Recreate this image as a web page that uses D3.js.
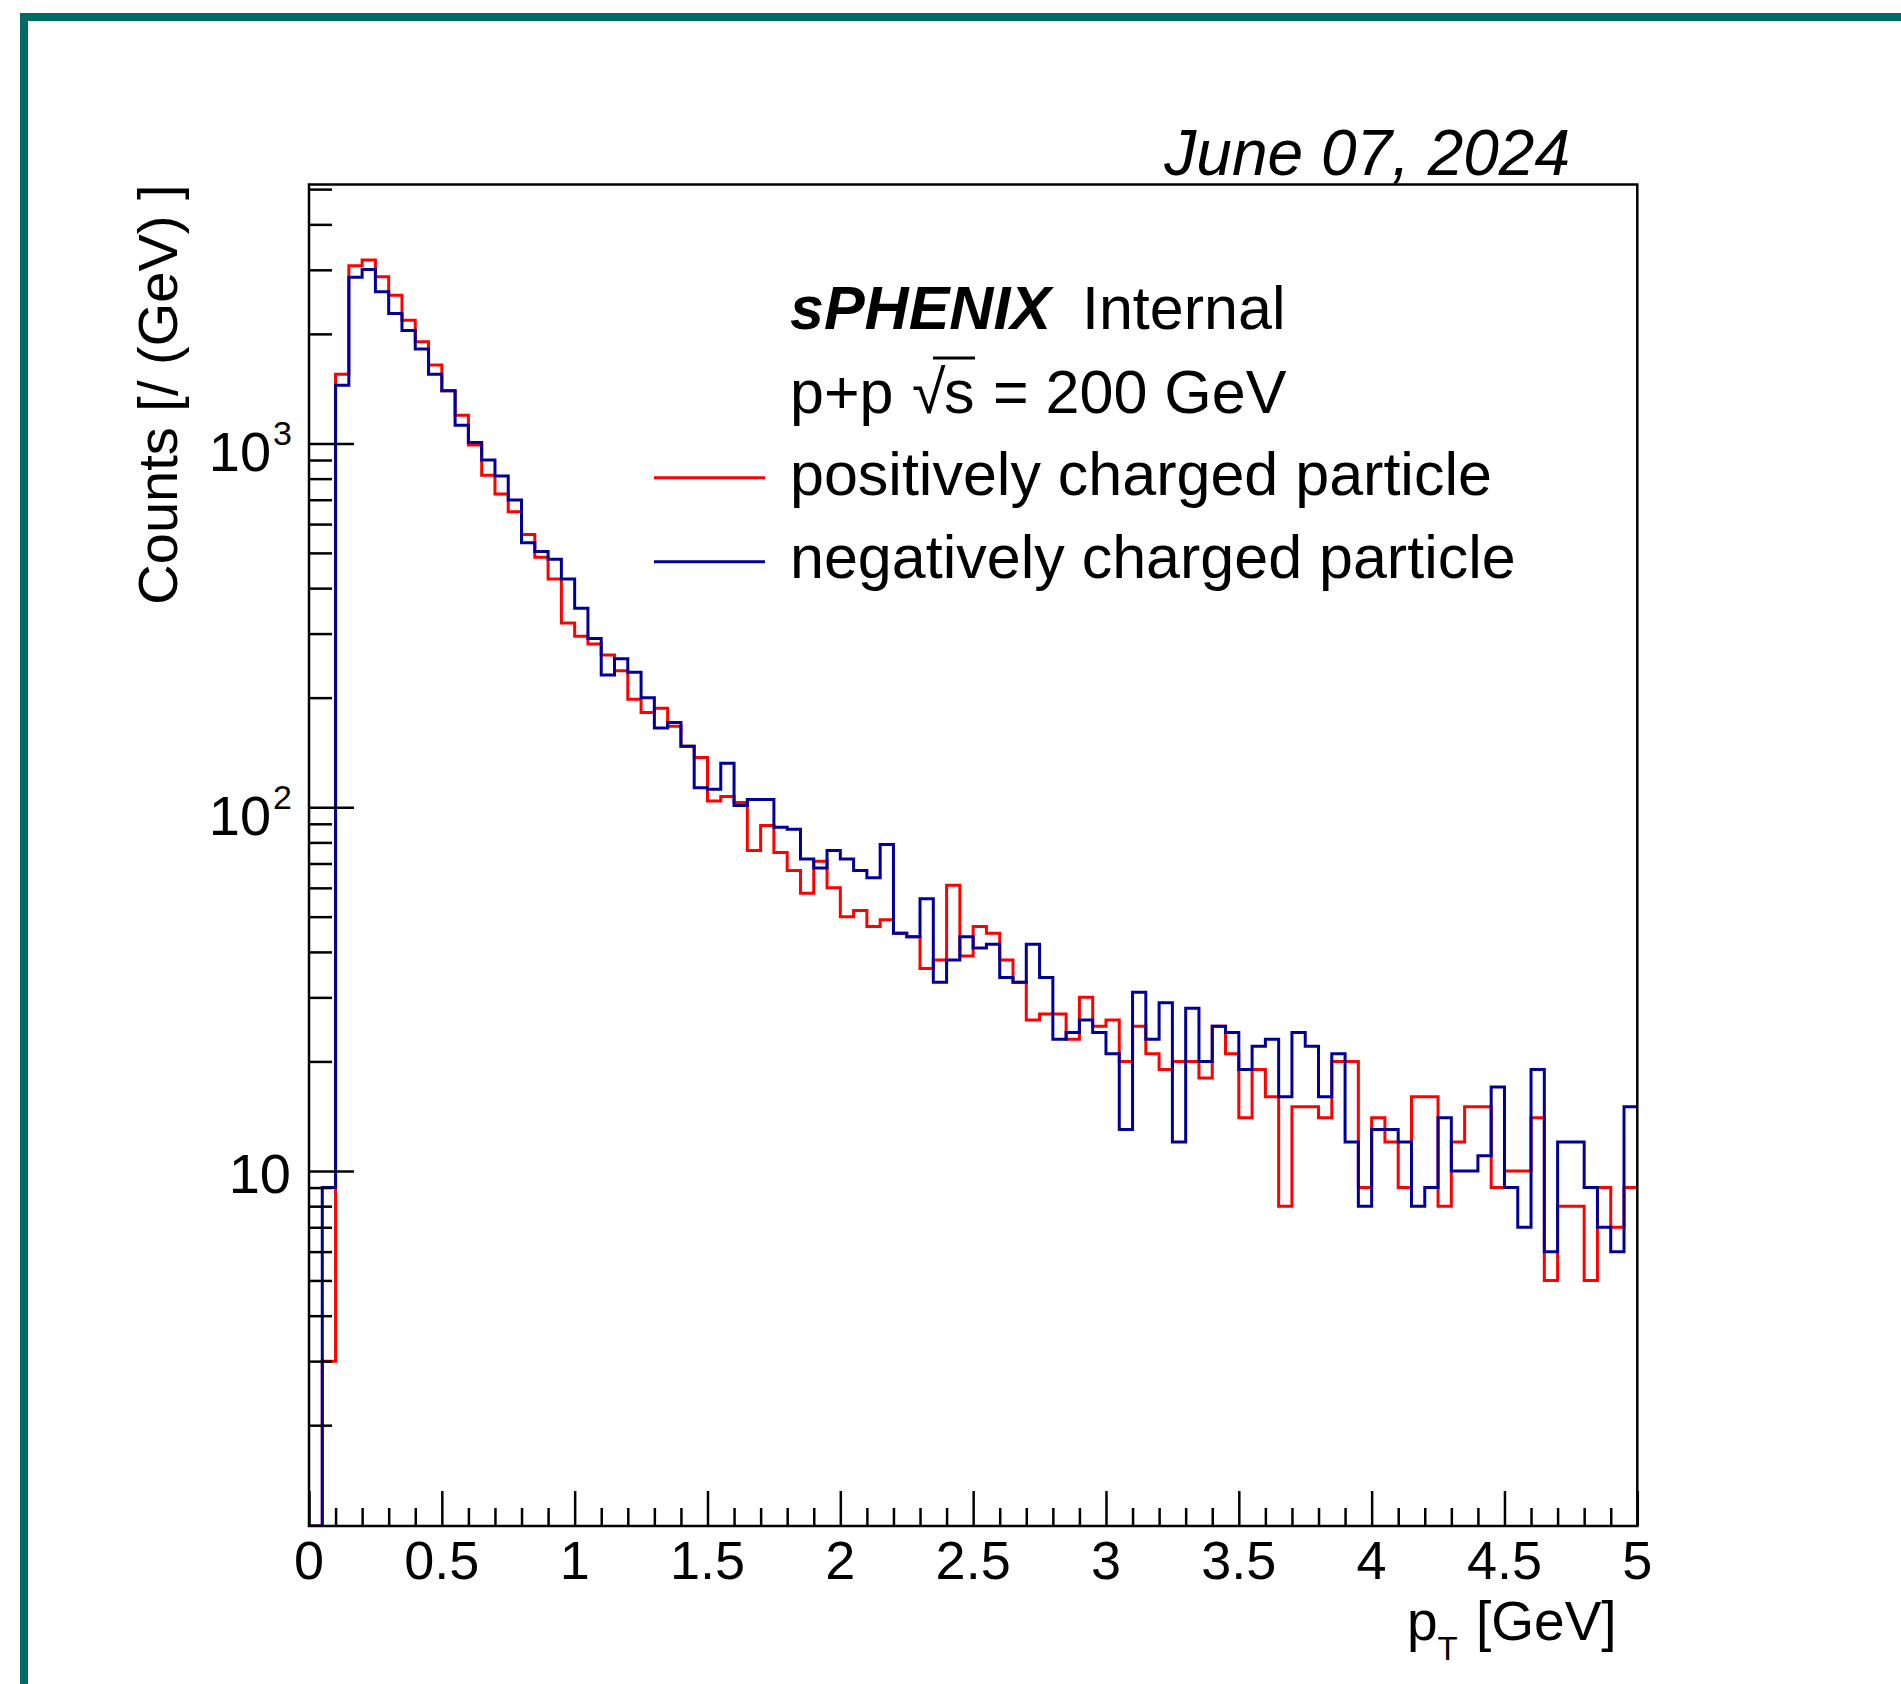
<!DOCTYPE html>
<html>
<head>
<meta charset="utf-8">
<script src="https://cdn.jsdelivr.net/npm/d3@7"></script>
<style>
  html, body { margin: 0; padding: 0; background: #fff; }
  svg { display: block; }
  text { font-family: "Liberation Sans", Arial, Helvetica, sans-serif; fill: #000; }
</style>
</head>
<body>
<svg id="chart" width="1901" height="1684"></svg>
<script>
// Histogram binning: 100 bins of pT between 0 and 5 GeV
const nBins = 100;
const ptMin = 0;
const ptMax = 5;

// Bin contents, positively charged particles
const positiveCounts = [
  0, 3, 1549, 3080, 3192, 2871, 2553, 2179, 1904, 1642,
  1396, 1194, 989, 817, 726, 649, 562, 486, 424, 321,
  295, 281, 262, 237, 198, 182, 187, 167, 147, 137,
  104, 107, 103, 76, 89, 75, 67, 58, 71, 60,
  50, 52, 47, 49, 45, 44, 36, 38, 61, 39,
  47, 45, 38, 33, 26, 27, 27, 23, 30, 25,
  26, 20, 25, 21, 19, 20, 20, 18, 25, 21,
  14, 19, 16, 8, 15, 15, 14, 20, 20, 9,
  14, 12, 9, 16, 16, 8, 12, 15, 15, 9,
  10, 10, 14, 5, 8, 8, 5, 9, 7, 9
];

// Bin contents, negatively charged particles
const negativeCounts = [
  0, 9, 1444, 2861, 3008, 2612, 2276, 2042, 1817, 1548,
  1396, 1121, 1006, 900, 813, 699, 533, 504, 480, 424,
  352, 291, 231, 256, 235, 200, 165, 171, 147, 113,
  112, 132, 101, 105, 105, 88, 87, 72, 68, 76,
  72, 67, 64, 79, 45, 44, 56, 33, 38, 44,
  41, 42, 34, 33, 42, 34, 23, 24, 26, 24,
  21, 13, 31, 23, 29, 12, 28, 20, 25, 24,
  19, 22, 23, 16, 24, 22, 16, 21, 12, 8,
  13, 13, 12, 8, 9, 14, 10, 10, 11, 17,
  9, 7, 19, 6, 12, 12, 9, 7, 6, 15
];

// Axis ranges and tick labels
const yMin = 1.0566;
const yMax = 5148;
const xMajorTicks = [0, 0.5, 1, 1.5, 2, 2.5, 3, 3.5, 4, 4.5, 5];
const xTickLabels = ["0", "0.5", "1", "1.5", "2", "2.5", "3", "3.5", "4", "4.5", "5"];
const yMajorTicks = [10, 100, 1000];
const yTickLabels = [{base: "10", exp: ""}, {base: "10", exp: "2"}, {base: "10", exp: "3"}];

const seriesNames = ["positively charged particle", "negatively charged particle"];
const seriesColors = ["#ff0000", "#000099"];

// Frame geometry
const frame = {left: 309, right: 1637.3, top: 184.5, bottom: 1526};

const svg = d3.select("#chart");

// Page border
svg.append("rect")
  .attr("x", 24).attr("y", 17)
  .attr("width", 3000).attr("height", 3000)
  .attr("fill", "none")
  .attr("stroke", "#006b64")
  .attr("stroke-width", 8);

const x = d3.scaleLinear().domain([ptMin, ptMax]).range([frame.left, frame.right]);
const y = d3.scaleLog().domain([yMin, yMax]).range([frame.bottom, frame.top]);

// Clip histograms to the frame
svg.append("clipPath").attr("id", "plotclip")
  .append("rect")
  .attr("x", frame.left).attr("y", frame.top)
  .attr("width", frame.right - frame.left)
  .attr("height", frame.bottom - frame.top);

const binWidth = (ptMax - ptMin) / nBins;
const edges = d3.range(nBins + 1).map(i => ptMin + i * binWidth);

function histPoints(counts) {
  const pts = [{x: edges[0], v: yMin}];
  counts.forEach((c, i) => pts.push({x: edges[i], v: Math.max(c, yMin)}));
  pts.push({x: edges[nBins], v: Math.max(counts[nBins - 1], yMin)});
  return pts;
}

const stepLine = d3.line()
  .x(d => x(d.x))
  .y(d => y(d.v))
  .curve(d3.curveStepAfter);

const hists = svg.append("g").attr("clip-path", "url(#plotclip)");
[positiveCounts, negativeCounts].forEach((counts, k) => {
  hists.append("path")
    .attr("d", stepLine(histPoints(counts)))
    .attr("fill", "none")
    .attr("stroke", seriesColors[k])
    .attr("stroke-width", 3)
    .attr("stroke-linejoin", "miter");
});

// Axes (ticks drawn inward)
const xMinorTicks = d3.range(0, 51).map(i => i / 10).filter(t => !xMajorTicks.includes(t));
const yMinorTicks = [];
[1, 10, 100, 1000].forEach(dec => {
  for (let m = 2; m <= 9; m++) {
    const v = m * dec;
    if (v >= yMin && v <= yMax) yMinorTicks.push(v);
  }
});

function styleAxis(g) {
  g.select(".domain").remove();
  g.selectAll(".tick line").attr("stroke", "#000").attr("stroke-width", 2.5);
  g.selectAll(".tick text").remove();
}

svg.append("g").attr("transform", `translate(0,${frame.bottom})`)
  .call(d3.axisBottom(x).tickValues(xMajorTicks).tickSize(-35)).call(styleAxis);
svg.append("g").attr("transform", `translate(0,${frame.bottom})`)
  .call(d3.axisBottom(x).tickValues(xMinorTicks).tickSize(-18)).call(styleAxis);
svg.append("g").attr("transform", `translate(${frame.left},0)`)
  .call(d3.axisLeft(y).tickValues(yMajorTicks).tickSize(-45)).call(styleAxis);
svg.append("g").attr("transform", `translate(${frame.left},0)`)
  .call(d3.axisLeft(y).tickValues(yMinorTicks).tickSize(-23)).call(styleAxis);

// Frame
svg.append("rect")
  .attr("x", frame.left).attr("y", frame.top)
  .attr("width", frame.right - frame.left)
  .attr("height", frame.bottom - frame.top)
  .attr("fill", "none").attr("stroke", "#000").attr("stroke-width", 2.5);

// X tick labels
svg.append("g").selectAll("text").data(xMajorTicks).join("text")
  .attr("x", d => x(d)).attr("y", 1579)
  .attr("text-anchor", "middle")
  .attr("font-size", 54)
  .text((d, i) => xTickLabels[i]);

// Y tick labels
yMajorTicks.forEach((v, i) => {
  const lab = yTickLabels[i];
  const t = svg.append("text")
    .attr("text-anchor", "end")
    .attr("font-size", 56);
  if (lab.exp === "") {
    t.attr("x", 291).attr("y", y(v) + 22).text(lab.base);
  } else {
    t.attr("x", 292).attr("y", y(v) + 28);
    t.append("tspan").text(lab.base);
    t.append("tspan").attr("font-size", 34).attr("dx", 2).attr("dy", -26).text(lab.exp);
  }
});

// Axis titles
svg.append("text")
  .attr("transform", `translate(177,${frame.top}) rotate(-90)`)
  .attr("text-anchor", "end")
  .attr("font-size", 56)
  .text("Counts [/ (GeV) ]");

const xt = svg.append("text").attr("x", 1407).attr("y", 1640).attr("font-size", 55);
xt.append("tspan").text("p");
xt.append("tspan").attr("font-size", 33).attr("dy", 20).text("T");
xt.append("tspan").attr("x", 1476).attr("dy", -20).text("[GeV]");

// Date stamp
svg.append("text")
  .attr("x", 1570).attr("y", 175)
  .attr("text-anchor", "end")
  .attr("font-size", 64)
  .attr("font-style", "italic")
  .text("June 07, 2024");

// Labels
const lab1 = svg.append("text").attr("x", 790).attr("y", 329).attr("font-size", 61);
lab1.append("tspan").attr("font-weight", "bold").attr("font-style", "italic").text("sPHENIX");
lab1.append("tspan").attr("x", 1082).text("Internal");

const lab2 = svg.append("text").attr("x", 790).attr("y", 413).attr("font-size", 61);
lab2.append("tspan").text("p+p");
lab2.append("tspan").attr("x", 912).text("\u221A");
lab2.append("tspan").attr("x", 944).text("s");
lab2.append("tspan").attr("x", 993).text("= 200 GeV");
svg.append("line")
  .attr("x1", 933).attr("x2", 975)
  .attr("y1", 358).attr("y2", 358)
  .attr("stroke", "#000").attr("stroke-width", 3);

// Legend
const legendY = [477.7, 561.7];
const legendTextY = [495, 578];
seriesNames.forEach((name, k) => {
  svg.append("line")
    .attr("x1", 654).attr("x2", 765)
    .attr("y1", legendY[k]).attr("y2", legendY[k])
    .attr("stroke", seriesColors[k]).attr("stroke-width", 3);
  svg.append("text")
    .attr("x", 790).attr("y", legendTextY[k])
    .attr("font-size", 61)
    .text(name);
});
</script>
</body>
</html>
